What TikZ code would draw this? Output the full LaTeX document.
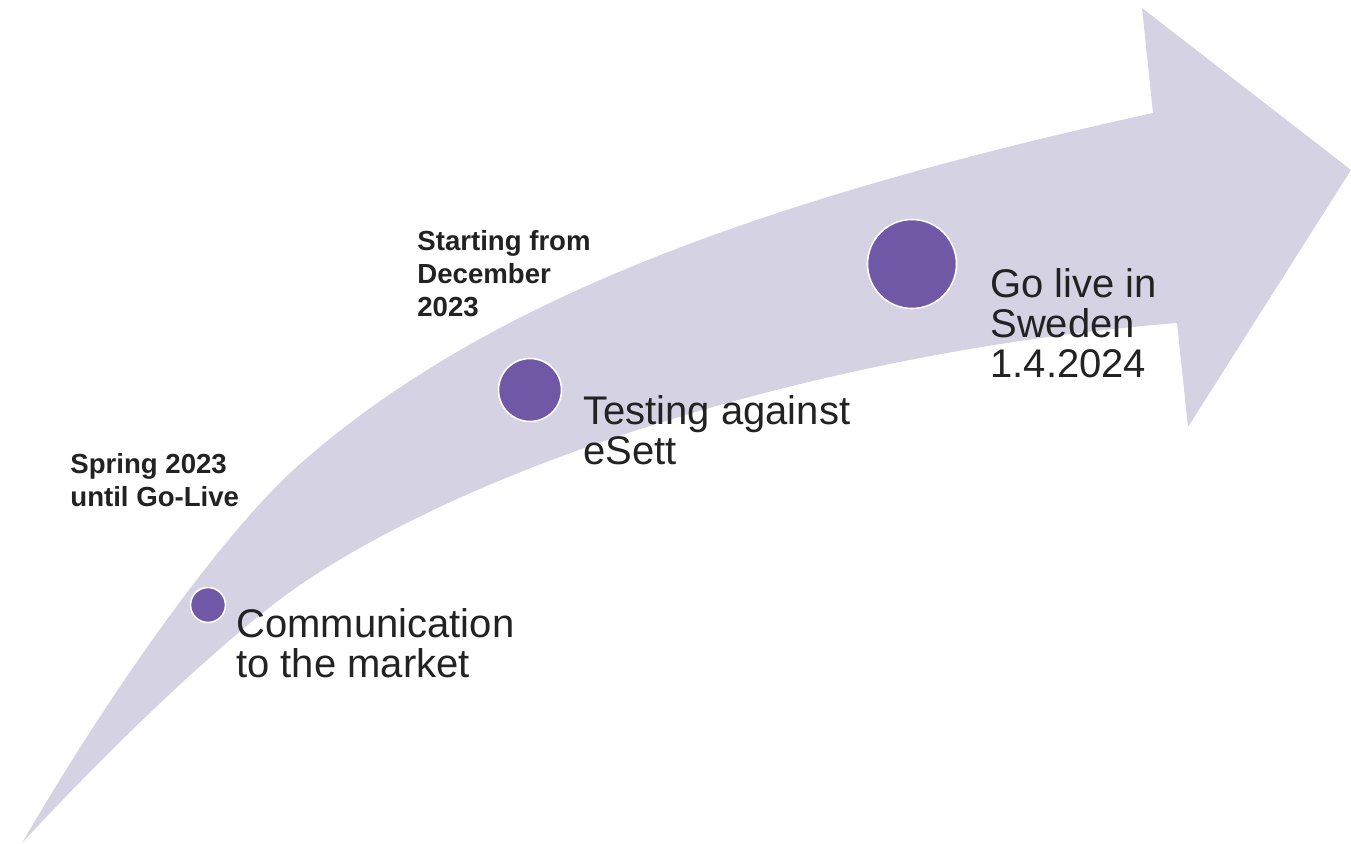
\documentclass[tikz,border=0pt]{standalone}
\usepackage{fontspec}
\setmainfont{Liberation Sans}
\definecolor{band}{HTML}{D5D2E4}
\definecolor{dot}{HTML}{7058A6}
\definecolor{txt}{HTML}{222222}
\begin{document}
\begin{tikzpicture}[x=0.5pt,y=-0.5pt,
  milestone/.style={circle,fill=dot,draw=white,line width=0.8pt,inner sep=0pt},
  bigtext/.style={anchor=north west,inner sep=0pt,align=left,text=txt,
    font=\fontsize{20pt}{20pt}\selectfont},
  datetext/.style={anchor=north west,inner sep=0pt,align=left,text=txt,
    font=\fontsize{13.8pt}{16.5pt}\selectfont\bfseries}]
\useasboundingbox (0,0) rectangle (1351,844);
% curved arrow
\fill[band] (22,843) .. controls (118,678) and (229,526) .. (300,464)
  .. controls (473.3,311.5) and (729.2,206.2) .. (1153,113)
  -- (1142,8) -- (1351,170) -- (1188,427) -- (1177,323)
  .. controls (842.6,349.8) and (491.8,454.6) .. (300,585)
  .. controls (236.6,628.1) and (125.4,731.3) .. (22,843) -- cycle;
% milestones
\node[milestone,minimum size=35pt*0.5] (m1) at (208,605) {};
\node[milestone,minimum size=63pt*0.5] (m2) at (530,390) {};
\node[milestone,minimum size=89pt*0.5] (m3) at (912,264) {};
% labels
\node[bigtext] (t1) at (236,608) {Communication\\to the market};
\node[bigtext] (t2) at (583,395) {Testing against\\eSett};
\node[bigtext] (t3) at (990,268) {Go live in\\Sweden\\1.4.2024};
\node[datetext] (d1) at (70,453) {Spring 2023\\until Go-Live};
\node[datetext] (d2) at (417,230) {Starting from\\December\\2023};
\end{tikzpicture}
\end{document}
